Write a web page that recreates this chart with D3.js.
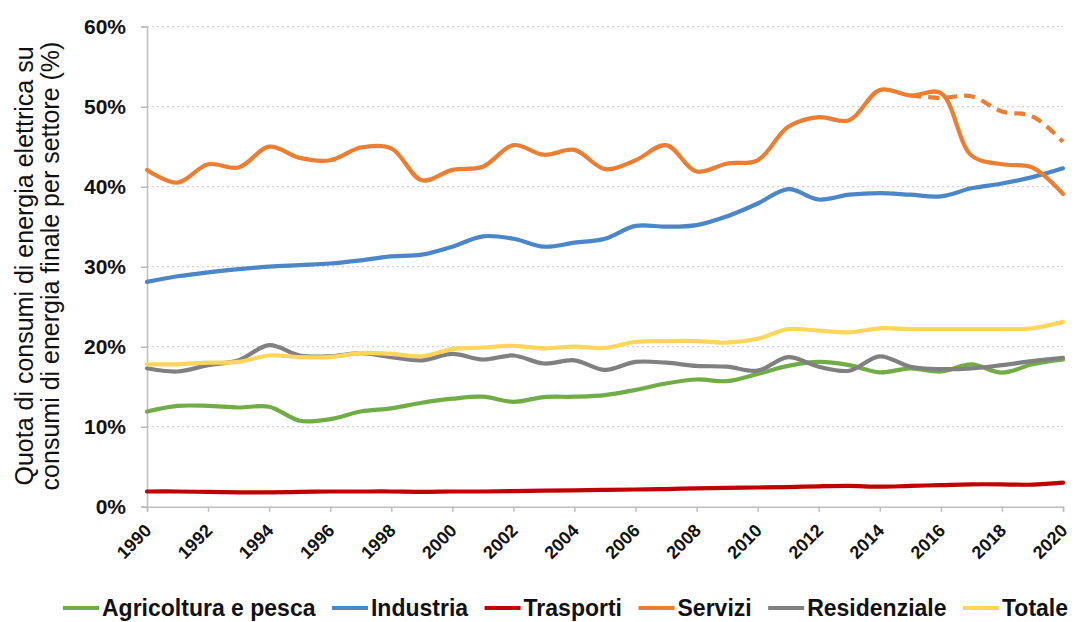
<!DOCTYPE html>
<html>
<head>
<meta charset="utf-8">
<script src="https://cdn.jsdelivr.net/npm/d3@7"></script>
<style>
  html, body { margin: 0; padding: 0; background: #fff; }
  svg { display: block; font-family: "Liberation Sans", Arial, sans-serif; }
</style>
</head>
<body>
<svg id="chart" width="1075" height="622"></svg>
<script>
// ---- data ----
const years = [1990,1991,1992,1993,1994,1995,1996,1997,1998,1999,2000,2001,2002,2003,2004,2005,2006,2007,2008,2009,2010,2011,2012,2013,2014,2015,2016,2017,2018,2019,2020];
const yTicks = [0, 10, 20, 30, 40, 50, 60];
const xTickYears = [1990,1992,1994,1996,1998,2000,2002,2004,2006,2008,2010,2012,2014,2016,2018,2020];

const agricoltura = [11.9,12.6,12.6,12.4,12.5,10.75,10.95,11.9,12.3,13.0,13.5,13.75,13.1,13.7,13.75,13.95,14.6,15.4,15.9,15.7,16.6,17.6,18.1,17.7,16.8,17.3,16.9,17.8,16.75,17.8,18.4];
const industria   = [28.1,28.8,29.3,29.7,30.0,30.2,30.4,30.8,31.3,31.5,32.5,33.8,33.5,32.5,33.0,33.5,35.1,35.0,35.2,36.3,37.9,39.7,38.4,39.0,39.2,39.0,38.8,39.8,40.4,41.2,42.3];
const trasporti   = [1.9,1.9,1.85,1.8,1.8,1.85,1.9,1.9,1.9,1.85,1.9,1.9,1.95,2.0,2.05,2.1,2.15,2.2,2.3,2.35,2.4,2.45,2.55,2.6,2.5,2.6,2.7,2.8,2.8,2.75,3.0];
const servizi     = [42.1,40.5,42.8,42.4,45.0,43.6,43.3,44.9,44.8,40.8,42.1,42.5,45.2,44.0,44.6,42.2,43.3,45.2,41.9,42.9,43.3,47.5,48.7,48.3,52.1,51.4,51.7,43.9,42.8,42.4,39.1];
const serviziDashYears = [2015,2016,2017,2018,2019,2020];
const serviziDash = [51.4,51.1,51.3,49.4,48.8,45.6];
const residenziale = [17.3,16.9,17.7,18.3,20.2,18.9,18.8,19.2,18.7,18.3,19.1,18.4,18.9,17.9,18.3,17.1,18.1,18.0,17.6,17.5,17.0,18.7,17.5,17.0,18.8,17.5,17.2,17.3,17.7,18.2,18.6];
const totale      = [17.8,17.8,18.0,18.1,18.9,18.7,18.7,19.2,19.1,18.8,19.7,19.9,20.1,19.8,20.0,19.85,20.6,20.7,20.7,20.5,21.0,22.2,22.0,21.8,22.3,22.2,22.2,22.2,22.2,22.3,23.1];

const seriesNames = ["Agricoltura e pesca","Industria","Trasporti","Servizi","Residenziale","Totale"];
const seriesValues = [agricoltura, industria, trasporti, servizi, residenziale, totale];
const seriesColors = ["#70AD47","#4A86C8","#C00000","#ED7D31","#808080","#FFD55C"];
const yTitleLines = ["Quota di consumi di energia elettrica su", "consumi di energia finale per settore (%)"];

// ---- layout ----
const svg = d3.select("#chart");
const M = {left: 147, right: 1063, top: 26.7, bottom: 506.7};

const x = d3.scaleLinear().domain([1990, 2020]).range([M.left, M.right]);
const y = d3.scaleLinear().domain([0, 60]).range([M.bottom, M.top]);

// gridlines
svg.append("g").selectAll("line")
  .data(yTicks.filter(d => d > 0))
  .join("line")
  .attr("x1", M.left).attr("x2", M.right)
  .attr("y1", d => y(d)).attr("y2", d => y(d))
  .attr("stroke", "#d0d0d0").attr("stroke-width", 1.2)
  .attr("stroke-dasharray", "2,3");

// y axis
const yAxis = svg.append("g")
  .attr("transform", `translate(${M.left},0)`)
  .call(d3.axisLeft(y).tickValues(yTicks).tickFormat(d => d + "%").tickSize(6).tickPadding(15));
yAxis.select(".domain").attr("stroke", "#bdbdbd").attr("stroke-width", 1.5);
yAxis.selectAll(".tick line").attr("stroke", "#bdbdbd").attr("stroke-width", 1.5);
yAxis.selectAll(".tick text")
  .attr("font-family", "'Liberation Sans', Arial, sans-serif")
  .attr("font-size", 21).attr("font-weight", "bold").attr("fill", "#111");

// x axis
const xAxis = svg.append("g")
  .attr("transform", `translate(0,${M.bottom})`)
  .call(d3.axisBottom(x).tickValues(xTickYears).tickFormat(d3.format("d")).tickSize(5));
xAxis.select(".domain").attr("stroke", "#bdbdbd").attr("stroke-width", 1.5);
xAxis.selectAll(".tick line").attr("stroke", "#bdbdbd").attr("stroke-width", 1.5);
xAxis.selectAll(".tick text")
  .attr("font-family", "'Liberation Sans', Arial, sans-serif")
  .attr("font-size", 18).attr("font-weight", "bold").attr("fill", "#111")
  .attr("text-anchor", "end")
  .attr("dy", null).attr("y", null)
  .attr("transform", "translate(5,25) rotate(-45)");

// lines
const line = d3.line()
  .x((d, i) => x(years[i]))
  .y(d => y(d))
  .curve(d3.curveCatmullRom.alpha(0.5));

const gLines = svg.append("g");
// dashed servizi variant
gLines.append("path")
  .datum(serviziDash)
  .attr("d", d3.line().x((d, i) => x(serviziDashYears[i])).y(d => y(d)).curve(d3.curveCatmullRom.alpha(0.5)))
  .attr("fill", "none").attr("stroke", seriesColors[3]).attr("stroke-width", 4.2)
  .attr("stroke-dasharray", "11,7");

seriesValues.forEach((vals, k) => {
  gLines.append("path")
    .datum(vals)
    .attr("d", line)
    .attr("fill", "none")
    .attr("stroke", seriesColors[k])
    .attr("stroke-width", 4.2)
    .attr("stroke-linejoin", "round")
    .attr("stroke-linecap", "round");
});

// y title
const yt = svg.append("text")
  .attr("transform", `translate(0,266) rotate(-90)`)
  .attr("text-anchor", "middle")
  .attr("font-size", 25).attr("fill", "#111");
yt.selectAll("tspan").data(yTitleLines).join("tspan")
  .attr("x", 0).attr("y", (d, i) => 33 + i * 26)
  .text(d => d);

// legend
const legend = svg.append("g").attr("transform", "translate(0,608)");
const lineLen = 36, pad = 3, gap = 16.5;
let cx = 63;
seriesNames.forEach((name, k) => {
  const g = legend.append("g").attr("transform", `translate(${cx},0)`);
  g.append("line").attr("x1", 0).attr("x2", lineLen).attr("y1", 0).attr("y2", 0)
    .attr("stroke", seriesColors[k]).attr("stroke-width", 4);
  const t = g.append("text").attr("x", lineLen + pad).attr("y", 0).attr("dy", "0.36em")
    .attr("font-size", 23).attr("font-weight", "bold").attr("fill", "#111").text(name);
  cx += lineLen + pad + t.node().getComputedTextLength() + gap;
});
</script>
</body>
</html>
